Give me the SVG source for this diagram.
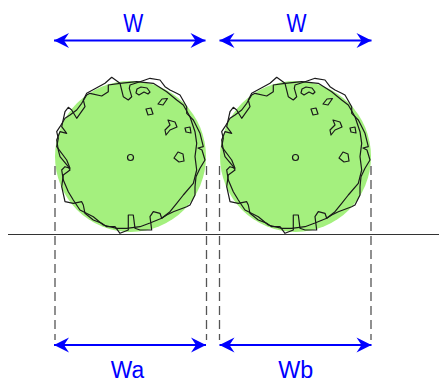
<svg xmlns="http://www.w3.org/2000/svg" xmlns:xlink="http://www.w3.org/1999/xlink" width="439" height="383" viewBox="0 0 439 383">
<style>
.bg{fill:#ffffff}
.crown{fill:#a4f07e;stroke:none}
.contour{fill:none;stroke:#1a1a1a;stroke-width:1.2;stroke-linejoin:round}
.ground{stroke:#333333;stroke-width:1.2;fill:none}
.dash{stroke:#555555;stroke-width:1.3;stroke-dasharray:9,5;fill:none}
.dim{stroke:#0000ff;stroke-width:2;fill:none}
.lbl{font-family:"Liberation Sans",Arial,sans-serif;fill:#0000ff;text-anchor:middle}
.top{font-size:25.5px}
.bot{font-size:23.5px}
</style>
<defs>
<marker id="ah" viewBox="-16 -8 17 16" refX="0" refY="0" markerWidth="17" markerHeight="16" markerUnits="userSpaceOnUse" orient="auto-start-reverse">
<path d="M0,0 L-15,-7.5 L-10,0 L-15,7.5 Z" fill="#0000ff"/>
</marker>
<g id="tree">
<circle class="crown" cx="130.5" cy="156.5" r="75.5"/>
<polygon class="contour" points="86.7,93.3 105,83.3 111.7,77.3 120,83.3 123.3,96.7 128.3,100 131.7,96.7 129.3,88.3 130,85 140,81.7 150,78.3 160,80 165,86.7 170,90 176.7,93.3 180,95 186.7,106.7 186.7,113.3 193.3,120 195,123.3 200,133.3 203.3,146.7 198,148 202,150 205,160 200,168.3 196,176.7 195,186.7 195,195 190,205 186.7,206.7 173.3,211.7 166.7,215 161.7,218.3 160,213.3 153.3,211.7 150,216.7 151.7,230 140,230 135,228.3 133.3,215 128.3,215 128.3,230 120,233.3 115,226.7 106.7,226.7 101.7,223.3 93.3,220 85,213.3 83.3,205 81.7,201.7 73.3,203.3 65,201.7 61.7,186.7 63.3,175 70,170 68.3,166.7 60,156.7 58.3,150 56.7,140 60,131.7 66.7,133.3 61.7,126.7 65,111.7 68.3,107.3 71.7,110 76.7,118.3 85,106.7 83.3,100"/>
<polygon class="contour" points="90,93.3 101.7,96 108.3,91.7 108.3,85 120,83.3 136.7,81.7 153.3,83.3 166.7,91.7 176.7,100 183.3,105 190,116.7 195,131.7 196.7,143.3 195,156.7 196.7,170 193.3,183.3 183.3,195 176.7,203.3 170,211.7 161.7,218.3 150,223 140,226.7 126.7,228.3 116.7,228.3 103.3,225 93.3,216.7 80,210 73.3,200 68.3,191.7 63.3,180 61.7,170 65,166.7 70,168.3 66.7,160 56.7,146.7 58.3,138.3 56.7,131.7 60,126.7 65,118.3 70,115 76.7,110 81.7,103.3 86.7,95"/>
<polygon class="contour" points="137,89 141,87 147,88 150,92 148,94 144,92 139,95 136,93"/>
<polygon class="contour" points="158,104 162,99 167.5,98.5 163,105"/>
<polygon class="contour" points="146,109 151,108 153,114 148,115"/>
<polygon class="contour" points="168,120 175,122 177,127 170,130 166,135 165,130 170,125"/>
<polygon class="contour" points="185,128 190,127 191,133 186,132"/>
<polygon class="contour" points="174,158 178,152 183,154 184,161 179,162"/>
<circle class="contour" cx="130.5" cy="157.5" r="3"/>
</g>
</defs>
<rect class="bg" x="0" y="0" width="439" height="383"/>
<g id="tree-a">
<use xlink:href="#tree"/>
</g>
<g id="tree-b">
<use xlink:href="#tree" transform="translate(165,0)"/>
</g>
<g id="ground">
<line class="ground" x1="8" y1="234.5" x2="439" y2="234.5"/>
</g>
<g id="connectors">
<line class="dash" x1="55" y1="166" x2="55" y2="340"/>
<line class="dash" x1="206.5" y1="166" x2="206.5" y2="340"/>
<line class="dash" x1="219.5" y1="166" x2="219.5" y2="340"/>
<line class="dash" x1="371" y1="166" x2="371" y2="340"/>
<line class="dim" x1="54" y1="40.5" x2="205.5" y2="40.5" marker-start="url(#ah)" marker-end="url(#ah)"/>
<line class="dim" x1="219.5" y1="40.5" x2="371.5" y2="40.5" marker-start="url(#ah)" marker-end="url(#ah)"/>
<line class="dim" x1="54" y1="345" x2="206" y2="345" marker-start="url(#ah)" marker-end="url(#ah)"/>
<line class="dim" x1="219.5" y1="345" x2="371.5" y2="345" marker-start="url(#ah)" marker-end="url(#ah)"/>
</g>
<g id="labels">
<text class="lbl top" x="133.3" y="31.7" textLength="20" lengthAdjust="spacingAndGlyphs">W</text>
<text class="lbl top" x="296.5" y="31.7" textLength="20" lengthAdjust="spacingAndGlyphs">W</text>
<text class="lbl bot" x="127.4" y="378.4" textLength="33.3" lengthAdjust="spacingAndGlyphs">Wa</text>
<text class="lbl bot" x="295.7" y="378.4" textLength="35" lengthAdjust="spacingAndGlyphs">Wb</text>
</g>
</svg>
